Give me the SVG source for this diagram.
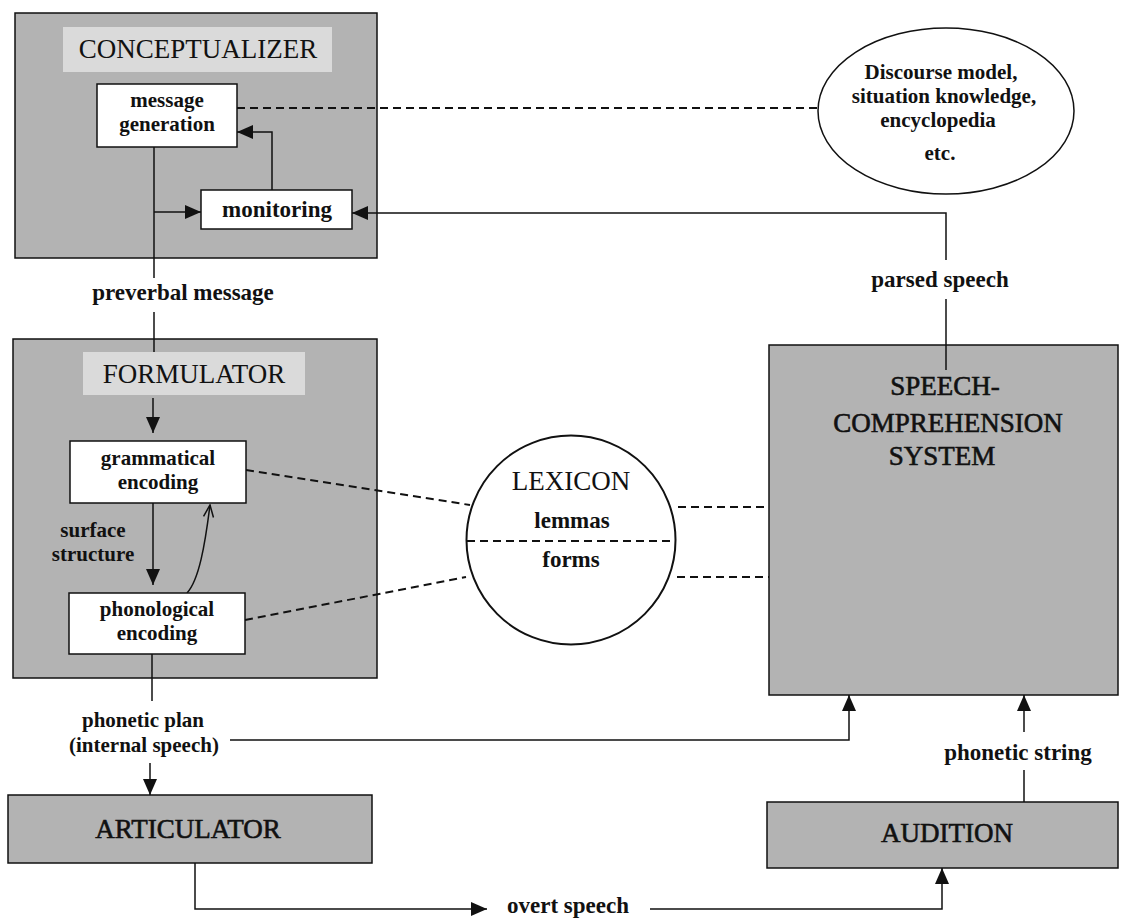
<svg xmlns="http://www.w3.org/2000/svg" width="1121" height="918" viewBox="0 0 1121 918">
<defs>
<marker id="ah" markerUnits="userSpaceOnUse" viewBox="0 0 16 14" refX="16" refY="7" markerWidth="16" markerHeight="14" orient="auto"><path d="M0,0 L16,7 L0,14 z" fill="#111"/></marker>
<marker id="open" markerUnits="userSpaceOnUse" viewBox="0 0 14 12" refX="13" refY="6" markerWidth="14" markerHeight="12" orient="auto"><path d="M1,1 L13,6 L1,11" fill="none" stroke="#111" stroke-width="1.5"/></marker>
</defs>
<style>
.grey{fill:#b3b3b3;stroke:#111;stroke-width:1.5}
.lbg{fill:#dadada}
.wbox{fill:#fff;stroke:#111;stroke-width:1.5}
.title{font-family:"Liberation Serif",serif;font-size:27px;fill:#111;text-anchor:middle}
.heavy{stroke:#111;stroke-width:0.6}
.lab{font-family:"Liberation Serif",serif;font-size:23px;font-weight:bold;fill:#111;text-anchor:middle}
.sm{font-size:21px}
.ln{fill:none;stroke:#111;stroke-width:1.5}
.dash{fill:none;stroke:#111;stroke-width:2;stroke-dasharray:8 5}
</style>
<rect width="1121" height="918" fill="#fff"/>

<g id="conceptualizer">
<rect class="grey" x="15" y="13" width="362" height="245"/>
<rect class="lbg" x="63" y="27" width="269" height="45"/>
<text class="title" x="198" y="58">CONCEPTUALIZER</text>
</g>
<g id="formulator">
<rect class="grey" x="13" y="339" width="364" height="339"/>
<rect class="lbg" x="83" y="352" width="222" height="43"/>
<text class="title" x="194" y="383">FORMULATOR</text>
</g>
<g id="speech-comprehension">
<rect class="grey" x="769" y="345" width="349" height="350"/>
<text class="title heavy" x="945" y="395">SPEECH-</text>
<text class="title heavy" x="948" y="432">COMPREHENSION</text>
<text class="title heavy" x="942" y="465">SYSTEM</text>
</g>
<g id="articulator">
<rect class="grey" x="8" y="795" width="364" height="68"/>
<text class="title heavy" x="188" y="838">ARTICULATOR</text>
</g>
<g id="audition">
<rect class="grey" x="767" y="802" width="351" height="66"/>
<text class="title heavy" x="947" y="842">AUDITION</text>
</g>

<g id="connectors">
<path class="ln" d="M154,147 V278"/>
<path class="ln" d="M154,312 V352"/>
<path class="ln" d="M154,212 H201" marker-end="url(#ah)"/>
<path class="ln" d="M272,190 V132 H237" marker-end="url(#ah)"/>
<path class="dash" d="M237,108 H818"/>
<path class="ln" d="M946,260 V213 H352" marker-end="url(#ah)"/>
<path class="ln" d="M946,299 V370"/>
<path class="ln" d="M153,398 V433" marker-end="url(#ah)"/>
<path class="ln" d="M153,503 V585" marker-end="url(#ah)"/>
<path class="ln" d="M187,593 C199,580 205,545 210,505" marker-end="url(#open)"/>
<path class="dash" d="M246,470 L470,505"/>
<path class="dash" d="M245,620 L466,577"/>
<path class="dash" d="M678,507 H769"/>
<path class="dash" d="M677,577 H769"/>
<path class="ln" d="M152,654 V701"/>
<path class="ln" d="M230,740 H849 V695" marker-end="url(#ah)"/>
<path class="ln" d="M150,763 V795" marker-end="url(#ah)"/>
<path class="ln" d="M195,863 V909 H487" marker-end="url(#ah)"/>
<path class="ln" d="M650,909 H942 V868" marker-end="url(#ah)"/>
<path class="ln" d="M1024,802 V770"/>
<path class="ln" d="M1024,732 V695" marker-end="url(#ah)"/>
</g>

<g id="message-generation">
<rect class="wbox" x="97" y="84" width="140" height="63"/>
<text class="lab sm" x="167" y="107">message</text>
<text class="lab sm" x="167" y="131">generation</text>
</g>
<g id="monitoring">
<rect class="wbox" x="201" y="190" width="151" height="39"/>
<text class="lab" x="277" y="217">monitoring</text>
</g>
<g id="grammatical-encoding">
<rect class="wbox" x="70" y="441" width="176" height="62"/>
<text class="lab sm" x="158" y="465">grammatical</text>
<text class="lab sm" x="158" y="489">encoding</text>
</g>
<g id="phonological-encoding">
<rect class="wbox" x="69" y="593" width="176" height="61"/>
<text class="lab sm" x="157" y="616">phonological</text>
<text class="lab sm" x="157" y="640">encoding</text>
</g>
<g id="lexicon">
<circle cx="571" cy="540" r="104.5" fill="#fff" stroke="#111" stroke-width="2"/>
<path class="dash" d="M467,541 H676"/>
<text class="title" x="571" y="490">LEXICON</text>
<text class="lab" x="572" y="528">lemmas</text>
<text class="lab" x="571" y="567">forms</text>
</g>
<g id="discourse-model">
<ellipse cx="946" cy="111" rx="128" ry="83" fill="#fff" stroke="#111" stroke-width="1.5"/>
<text class="lab sm" x="941" y="79">Discourse model,</text>
<text class="lab sm" x="944" y="103">situation knowledge,</text>
<text class="lab sm" x="938" y="127">encyclopedia</text>
<text class="lab sm" x="940" y="160">etc.</text>
</g>

<g id="labels">
<text class="lab" x="183" y="300">preverbal message</text>
<text class="lab" x="940" y="287">parsed speech</text>
<text class="lab sm" x="93" y="537">surface</text>
<text class="lab sm" x="93" y="561">structure</text>
<text class="lab sm" x="143" y="727">phonetic plan</text>
<text class="lab sm" x="144" y="752">(internal speech)</text>
<text class="lab" x="1018" y="760">phonetic string</text>
<text class="lab" x="568" y="913">overt speech</text>
</g>
</svg>
